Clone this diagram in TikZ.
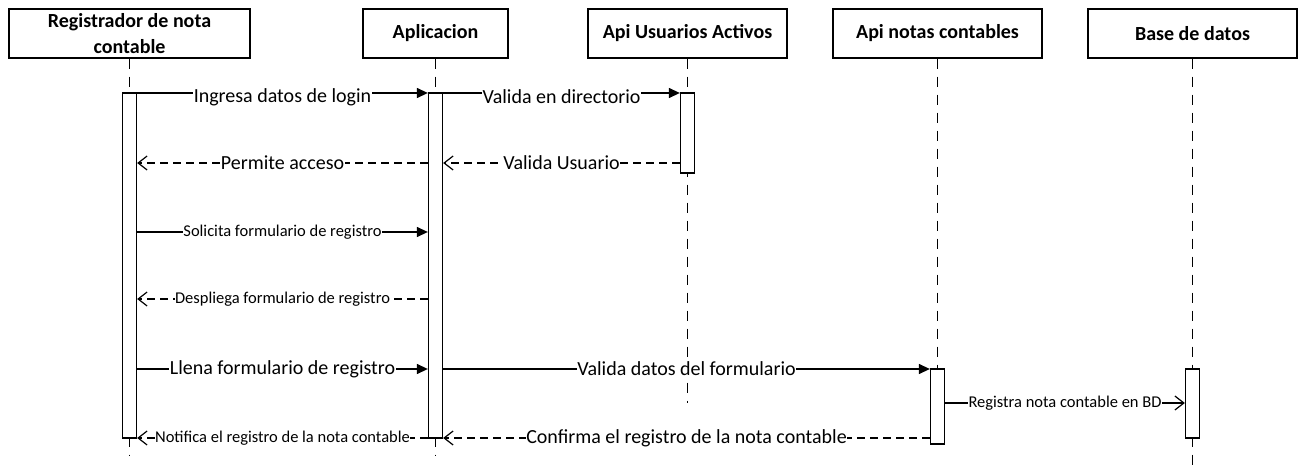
\documentclass[tikz,border=0pt]{standalone}
\usepackage{fontspec}
\setmainfont{Carlito}
\usetikzlibrary{arrows.meta}

\tikzset{
  head/.style={draw, line width=1.3pt, minimum height=49pt, inner sep=0pt, align=center, font=\bfseries\fontsize{20}{26}\selectfont},
  life/.style={line width=1.2pt, dash pattern=on 10pt off 8pt},
  bar/.style={draw, fill=white, line width=1.3pt, minimum width=14pt, inner sep=0pt},
  sync/.style={line width=1.3pt, -{Triangle[length=11pt,width=10pt]}},
  reply/.style={line width=1.2pt, dash pattern=on 8pt off 5pt, -{Straight Barb[length=9pt,width=14pt,line width=1.2pt]}},
  async/.style={line width=1.2pt, -{Straight Barb[length=9pt,width=14pt,line width=1.2pt]}},
  lbl/.style={fill=white, inner xsep=0.5pt, inner ysep=0pt, font=\fontsize{20}{24}\selectfont},
  lblsm/.style={lbl, font=\fontsize{16.5}{20}\selectfont}
}

\begin{document}
\begin{tikzpicture}[x=1pt, y=-1pt]

\useasboundingbox (0,0) rectangle (1299,470);

% participants and lifelines
\foreach \name/\x/\w/\endy/\txt in {reg/129.5/241/455/{Registrador de nota\\contable}, app/435.5/145/455/Aplicacion, usr/687.5/199/403/Api Usuarios Activos, notas/937.5/209/369/Api notas contables, bd/1192.5/209/470/Base de datos}
{
\node[head, minimum width=\w pt] (\name) at (\x,33.5) {\txt};
\coordinate (\name end) at (\x,\endy);
\draw[life] (\name) -- (\name end);
}

% activation bars
\node[bar, minimum height=345pt] (regbar) at (129.5,265.5) {};
\node[bar, minimum height=345pt] (appbar) at (435.5,265.5) {};
\node[bar, minimum height=80pt] (usrbar) at (687.5,133) {};
\node[bar, minimum height=75pt] (notasbar) at (937.5,406.5) {};
\node[bar, minimum height=69pt] (bdbar) at (1192.5,403.5) {};

% messages
\draw[sync] (regbar.east |- 0,93) -- node[lbl, yshift=-4pt] (m1) {Ingresa datos de login} (appbar.west |- 0,93);
\draw[sync] (appbar.east |- 0,93) -- node[lbl, yshift=-4pt] (m2) {Valida en directorio} (usrbar.west |- 0,93);
\draw[reply] (appbar.west |- 0,163) -- node[lbl] (m3) {Permite acceso} (regbar.east |- 0,163);
\draw[reply] (usrbar.west |- 0,163) -- node[lbl] (m4) {Valida Usuario} (appbar.east |- 0,163);
\draw[sync] (regbar.east |- 0,232) -- node[lblsm] (m5) {Solicita formulario de registro} (appbar.west |- 0,232);
\draw[reply] (appbar.west |- 0,299) -- node[lblsm] (m6) {Despliega formulario de registro} (regbar.east |- 0,299);
\draw[sync] (regbar.east |- 0,369) -- node[lbl] (m7) {Llena formulario de registro} (appbar.west |- 0,369);
\draw[sync] (appbar.east |- 0,369) -- node[lbl] (m8) {Valida datos del formulario} (notasbar.west |- 0,369);
\draw[async] (notasbar.east |- 0,403) -- node[lblsm] (m9) {Registra nota contable en BD} (bdbar.west |- 0,403);
\draw[reply] (appbar.west |- 0,438) -- node[lblsm] (m10) {Notifica el registro de la nota contable} (regbar.east |- 0,438);
\draw[reply] (notasbar.west |- 0,438) -- node[lbl] (m11) {Confirma el registro de la nota contable} (appbar.east |- 0,438);

\end{tikzpicture}
\end{document}
